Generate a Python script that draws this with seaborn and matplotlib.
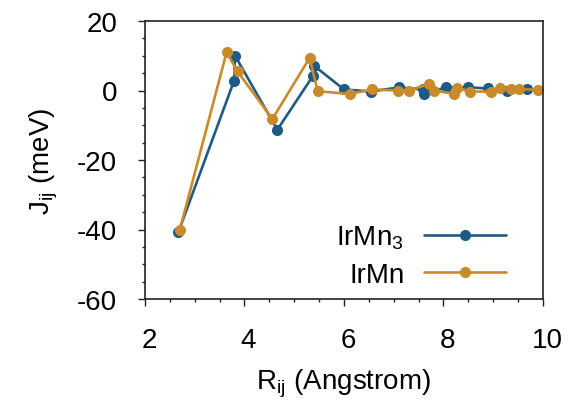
import matplotlib
matplotlib.use("Agg")
import matplotlib.pyplot as plt
import matplotlib.transforms as mtransforms
import numpy as np
import pandas as pd
import seaborn as sns

# Exchange couplings J_ij versus pair distance R_ij
r_irmn3 = [2.67, 3.79, 3.81, 4.66, 5.38, 5.40, 6.00, 6.55, 7.10, 7.58, 7.60,
           8.05, 8.49, 8.90, 9.28, 9.67]
j_irmn3 = [-40.8, 2.8, 10.0, -11.3, 4.3, 7.1, 0.3, -0.3, 0.9, 0.3, -1.0,
           0.9, 0.9, 0.6, 0.0, 0.3]

r_irmn = [2.70, 3.64, 3.86, 4.56, 5.31, 5.47, 6.12, 6.56, 7.08, 7.31, 7.71,
          7.81, 8.22, 8.28, 8.54, 8.96, 9.14, 9.36, 9.51, 9.89]
j_irmn = [-40.1, 11.0, 5.5, -8.2, 9.4, -0.2, -1.0, 0.3, 0.0, 0.0, 1.9,
          0.0, -1.0, 0.8, -0.3, -0.3, 0.7, 0.4, 0.4, 0.2]

series_names = ["IrMn$_3$", "IrMn"]
series_colors = ["#1f5a85", "#c98a2c"]

x_ticks = [2, 4, 6, 8, 10]
y_ticks = [-60, -40, -20, 0, 20]

df = pd.concat([
    pd.DataFrame({"R": r_irmn3, "J": j_irmn3, "system": series_names[0]}),
    pd.DataFrame({"R": r_irmn, "J": j_irmn, "system": series_names[1]}),
], ignore_index=True)

sns.set_style("ticks")
plt.rcParams["font.family"] = ["Liberation Sans", "DejaVu Sans"]
plt.rcParams["mathtext.default"] = "regular"
plt.rcParams["axes.unicode_minus"] = False
for key in ["text.color", "axes.labelcolor", "xtick.labelcolor", "ytick.labelcolor"]:
    plt.rcParams[key] = "black"

fig = plt.figure(figsize=(5.74, 4.06), dpi=100)
ax = fig.add_axes([145 / 574, 1 - 300 / 406, 398 / 574, 278 / 406])

sns.lineplot(data=df, x="R", y="J", hue="system", hue_order=series_names,
             palette=series_colors, estimator=None, sort=True,
             marker="o", markersize=8, markeredgewidth=0,
             linewidth=1.9, ax=ax, legend=True)

ax.set_xlim(2, 10)
ax.set_ylim(-60, 20)
ax.set_xticks(x_ticks)
ax.set_yticks(y_ticks)
ax.set_xticks(np.arange(2, 10.01, 0.5), minor=True)
ax.set_yticks(np.arange(-60, 20.01, 5), minor=True)
ax.tick_params(axis="both", which="major", direction="out", length=5,
               width=1, labelsize=20, pad=15, color="#222222",
               labelcolor="black")
ax.tick_params(axis="both", which="minor", direction="out", length=2.5,
               width=1, color="#222222")
ax.tick_params(top=False, right=False, which="both")

# shift x tick labels slightly to the right
offset = mtransforms.ScaledTranslation(4 / 100, 0, fig.dpi_scale_trans)
for lbl in ax.get_xticklabels():
    lbl.set_transform(lbl.get_transform() + offset)

for side in ["left", "right", "top", "bottom"]:
    ax.spines[side].set_visible(True)
    ax.spines[side].set_color("#222222")
    ax.spines[side].set_linewidth(1.2)

ax.set_xlabel("R$_{ij}$ (Angstrom)", fontsize=20, labelpad=10, color="black")
ax.set_ylabel("J$_{ij}$ (meV)", fontsize=20, labelpad=12, color="black")

handles, labels = ax.get_legend_handles_labels()
leg = ax.legend(handles, labels, loc="lower right", bbox_to_anchor=(0.955, -0.03),
                frameon=False, fontsize=20, markerfirst=False, handlelength=2.95,
                handletextpad=0.7, labelspacing=0.4, numpoints=1,
                borderaxespad=0.3)
for t in leg.get_texts():
    t.set_color("black")

fig.savefig("out.png", dpi=100)
